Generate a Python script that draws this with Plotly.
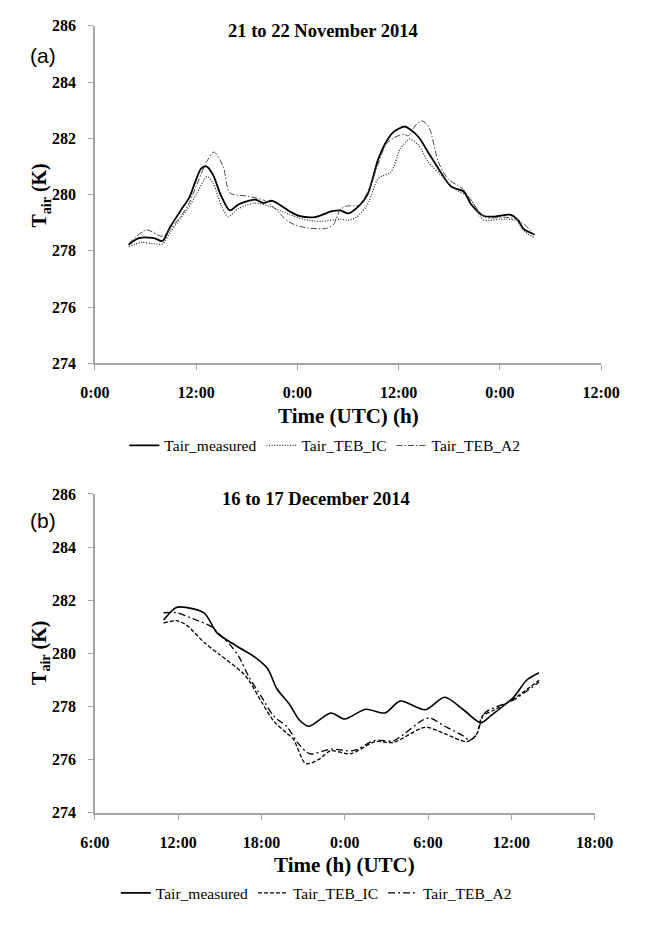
import plotly.graph_objects as go

# ---------------- Panel (a): 21 to 22 November 2014 (hours since 21 Nov 0:00) ----------------
t_a_meas = [4.0, 5.2, 7.0, 8.0, 8.9, 10.4, 11.2, 11.9, 12.6, 13.2, 14.0, 14.9, 16.0, 17.0, 19.0, 20.0,
            21.0, 23.0, 24.2, 26.1, 28.0, 29.1, 30.0, 31.3, 32.3, 33.6, 34.7, 35.4, 36.7, 37.3, 38.4,
            39.5, 40.7, 42.2, 43.7, 44.6, 46.1, 47.4, 49.3, 50.2, 50.8, 52.1]
T_a_meas = [278.22, 278.45, 278.45, 278.35, 278.84, 279.54, 279.9, 280.46, 280.93, 281.0, 280.7, 280.0,
            279.44, 279.65, 279.82, 279.7, 279.78, 279.42, 279.24, 279.2, 279.4, 279.44, 279.33, 279.6,
            280.0, 281.28, 281.97, 282.23, 282.42, 282.33, 282.03, 281.5, 280.93, 280.29, 280.11,
            279.65, 279.24, 279.22, 279.28, 279.07, 278.78, 278.58]

t_a_ic = [4.0, 5.5, 7.0, 8.0, 9.0, 11.0, 12.0, 13.3, 14.0, 15.0, 15.8, 17.0, 19.0, 21.0, 23.0, 25.0,
          27.0, 29.0, 30.0, 31.0, 32.3, 33.6, 35.1, 36.2, 37.3, 38.4, 39.5, 41.0, 42.5, 44.4, 46.1,
          48.1, 50.0, 50.8, 52.1]
T_a_ic = [278.15, 278.3, 278.25, 278.25, 278.7, 279.5, 280.0, 280.64, 280.4, 279.6, 279.22, 279.5,
          279.7, 279.55, 279.3, 279.1, 279.05, 279.13, 279.09, 279.2, 279.65, 280.58, 280.81, 281.63,
          281.97, 281.74, 281.16, 280.7, 280.23, 279.88, 279.1, 279.13, 279.07, 278.72, 278.46]

t_a_a2 = [4.0, 6.1, 8.0, 9.0, 11.0, 12.0, 13.3, 14.1, 15.2, 16.0, 18.0, 20.0, 21.0, 23.1, 25.3, 27.6,
          28.3, 29.1, 29.8, 31.3, 32.5, 34.7, 36.6, 37.1, 38.1, 38.8, 39.6, 40.7, 41.8, 43.7, 44.6,
          46.3, 48.5, 50.2, 52.1]
T_a_a2 = [278.25, 278.74, 278.52, 278.8, 279.6, 280.3, 281.2, 281.51, 281.0, 280.06, 279.95, 279.8,
          279.6, 279.01, 278.81, 278.81, 278.95, 279.47, 279.59, 279.63, 280.2, 281.86, 282.15,
          282.09, 282.5, 282.62, 282.38, 281.16, 280.58, 280.17, 279.77, 279.19, 279.2, 279.1, 278.56]

xtick_a_vals = [0, 12, 24, 36, 48, 60]
xtick_a_text = ["0:00", "12:00", "0:00", "12:00", "0:00", "12:00"]

# ---------------- Panel (b): 16 to 17 December 2014 (hours since 16 Dec 0:00) ----------------
t_b_meas = [10.95, 11.86, 12.55, 13.9, 14.8, 16.2, 17.55, 18.45, 19.1, 20.05, 20.7, 21.4, 23.0, 24.0,
            25.5, 26.9, 28.0, 29.8, 31.2, 32.55, 33.8, 34.6, 36.2, 37.1, 38.0]
T_b_meas = [281.26, 281.73, 281.73, 281.51, 280.77, 280.28, 279.85, 279.42, 278.68, 278.06, 277.51,
            277.26, 277.76, 277.53, 277.9, 277.76, 278.21, 277.88, 278.35, 277.88, 277.39, 277.69,
            278.37, 278.99, 279.27]

t_b_ic = [10.95, 11.86, 12.55, 13.9, 15.0, 16.6, 17.1, 18.0, 18.9, 19.8, 20.3, 21.2, 22.1, 23.0, 24.4,
          26.2, 27.5, 29.8, 31.2, 32.8, 33.5, 33.9, 34.8, 36.2, 38.0]
T_b_ic = [281.14, 281.23, 281.08, 280.4, 279.95, 279.29, 278.98, 278.18, 277.44, 277.01, 276.77,
          275.85, 276.0, 276.34, 276.22, 276.68, 276.65, 277.22, 276.98, 276.68, 276.95, 277.63,
          277.88, 278.3, 278.99]

t_b_a2 = [10.95, 11.86, 13.0, 14.4, 15.0, 15.7, 16.4, 17.1, 18.0, 18.9, 19.8, 20.7, 21.5, 23.0, 24.6,
          26.2, 27.5, 30.0, 31.2, 32.55, 33.0, 33.5, 34.1, 36.2, 38.0]
T_b_a2 = [281.53, 281.53, 281.32, 281.0, 280.7, 280.35, 279.85, 279.11, 278.37, 277.63, 277.26,
          276.58, 276.22, 276.4, 276.34, 276.73, 276.71, 277.57, 277.26, 276.89, 276.73, 276.95,
          277.76, 278.26, 278.92]

xtick_b_vals = [6, 12, 18, 24, 30, 36, 42]
xtick_b_text = ["6:00", "12:00", "18:00", "0:00", "6:00", "12:00", "18:00"]

series_names = ["Tair_measured", "Tair_TEB_IC", "Tair_TEB_A2"]

SERIF = "Liberation Serif"
SANS = "Liberation Sans"

# page is 649x928; the html body has an 8px margin, so the figure is sized to fit inside it
OX, OY = 8, 8
FW, FH = 649 - 2 * OX, 928 - 2 * OY


def px(x):
    return (x - OX) / FW


def py(y):
    return 1 - (y - OY) / FH


fig = go.Figure()

# panel (a)
fig.add_trace(go.Scatter(x=t_a_meas, y=T_a_meas, name=series_names[0], mode="lines",
                         line=dict(color="black", width=1.8, shape="spline", smoothing=0.8),
                         xaxis="x", yaxis="y", legend="legend"))
fig.add_trace(go.Scatter(x=t_a_ic, y=T_a_ic, name=series_names[1], mode="lines",
                         line=dict(color="#333333", width=1.3, dash="1px,1.6px", shape="spline", smoothing=0.8),
                         xaxis="x", yaxis="y", legend="legend"))
fig.add_trace(go.Scatter(x=t_a_a2, y=T_a_a2, name=series_names[2], mode="lines",
                         line=dict(color="#444444", width=1.0, dash="6px,2px,1.5px,2px", shape="spline", smoothing=0.8),
                         xaxis="x", yaxis="y", legend="legend"))

# panel (b)
fig.add_trace(go.Scatter(x=t_b_meas, y=T_b_meas, name=series_names[0], mode="lines",
                         line=dict(color="black", width=1.6, shape="spline", smoothing=0.8),
                         xaxis="x2", yaxis="y2", legend="legend2"))
fig.add_trace(go.Scatter(x=t_b_ic, y=T_b_ic, name=series_names[1], mode="lines",
                         line=dict(color="black", width=1.3, dash="4px,2px", shape="spline", smoothing=0.8),
                         xaxis="x2", yaxis="y2", legend="legend2"))
fig.add_trace(go.Scatter(x=t_b_a2, y=T_b_a2, name=series_names[2], mode="lines",
                         line=dict(color="black", width=1.3, dash="7px,3px,2px,3px", shape="spline", smoothing=0.8),
                         xaxis="x2", yaxis="y2", legend="legend2"))

axis_common = dict(showgrid=False, zeroline=False, showline=True, linecolor="#a6a6a6", linewidth=1.5,
                   ticks="outside", ticklen=5, tickcolor="#a6a6a6", tickwidth=1,
                   tickfont=dict(family=SERIF, size=16, color="black", weight="bold"))

yax = dict(axis_common, range=[274, 286], dtick=2, tick0=274, ticklabelstandoff=9)

legend_font = dict(family=SERIF, size=15.5, color="black")

fig.update_layout(
    width=FW, height=FH,
    margin=dict(l=0, r=0, t=0, b=0),
    paper_bgcolor="white", plot_bgcolor="white",
    showlegend=True,
    xaxis=dict(axis_common, domain=[px(84), px(619)], range=[0, 60], tickvals=xtick_a_vals,
               ticktext=xtick_a_text, anchor="y", ticklabelstandoff=9),
    yaxis=dict(yax, domain=[py(362), py(18)], anchor="x"),
    xaxis2=dict(axis_common, domain=[px(84), px(612)], range=[6, 42], tickvals=xtick_b_vals,
                ticktext=xtick_b_text, anchor="y2", ticklabelstandoff=9),
    yaxis2=dict(yax, domain=[py(820), py(495)], anchor="x2"),
    legend=dict(orientation="h", x=px(327), y=py(446), xanchor="center", yanchor="middle",
                font=legend_font, itemwidth=30, bgcolor="rgba(0,0,0,0)"),
    legend2=dict(orientation="h", x=px(318), y=py(902), xanchor="center", yanchor="middle",
                 font=legend_font, itemwidth=30, bgcolor="rgba(0,0,0,0)"),
)

annotations = [
    dict(text="21 to 22 November 2014", x=px(325), y=py(23), font=dict(family=SERIF, size=18.5, weight="bold")),
    dict(text="16 to 17 December 2014", x=px(318), y=py(500), font=dict(family=SERIF, size=18.5, weight="bold")),
    dict(text="(a)", x=px(29), y=py(48), font=dict(family=SANS, size=21)),
    dict(text="(b)", x=px(29), y=py(522), font=dict(family=SANS, size=21)),
    dict(text="T<sub>air</sub> (K)", x=px(27), y=py(191), textangle=-90,
         font=dict(family=SERIF, size=20, weight="bold")),
    dict(text="T<sub>air</sub> (K)", x=px(27), y=py(657), textangle=-90,
         font=dict(family=SERIF, size=20, weight="bold")),
    dict(text="Time (UTC) (h)", x=px(352), y=py(416), font=dict(family=SERIF, size=21, weight="bold")),
    dict(text="Time (h) (UTC)", x=px(348), y=py(873), font=dict(family=SERIF, size=21, weight="bold")),
]
for a in annotations:
    a.update(xref="paper", yref="paper", showarrow=False, xanchor="center", yanchor="middle")
    a["font"].setdefault("color", "black")
fig.update_layout(annotations=annotations)

fig.write_html("out.html")
